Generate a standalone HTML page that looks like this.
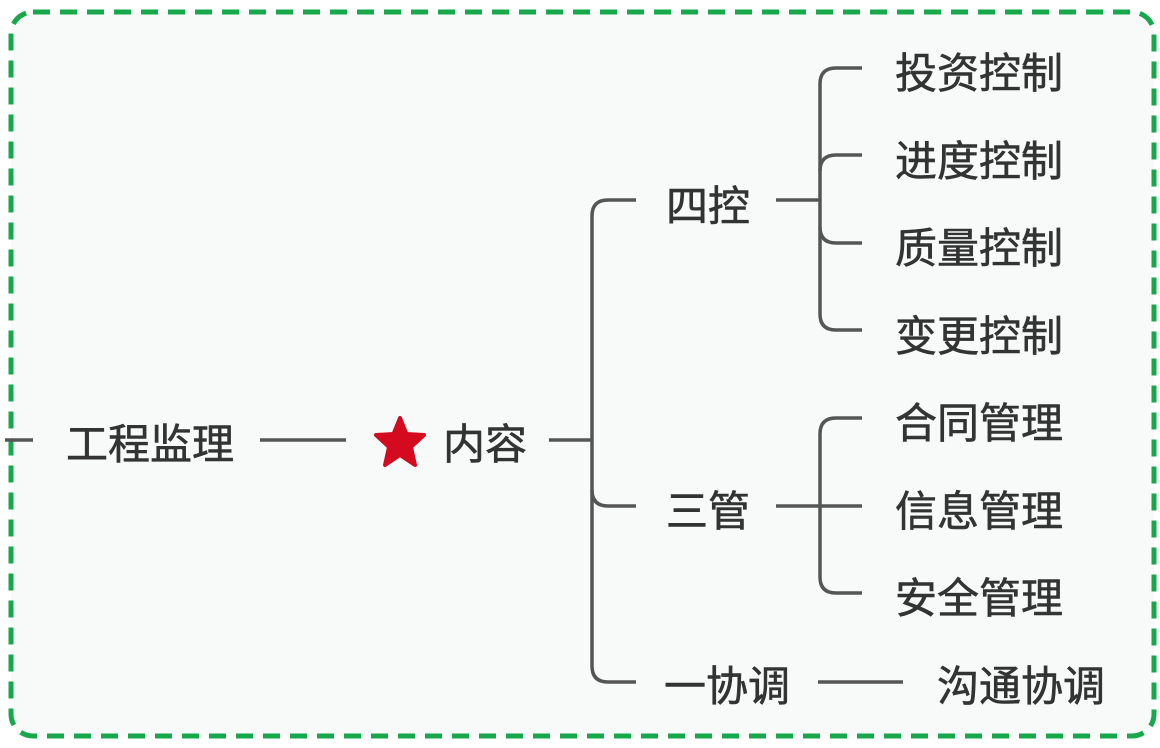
<!DOCTYPE html>
<html><head><meta charset="utf-8"><style>
html,body{margin:0;padding:0;background:#fff;}
svg{display:block;}
text{font-family:"Liberation Sans","Noto Sans CJK SC",sans-serif;font-size:42px;fill:#333;stroke:#333;stroke-width:0.6px;}
</style></head><body>
<svg width="1160" height="748" viewBox="0 0 1160 748" xmlns="http://www.w3.org/2000/svg">
<rect x="11" y="12" width="1143" height="724" rx="22" fill="#f8fafa" stroke="#16a84a" stroke-width="5" stroke-dasharray="17 10"/>
<g stroke="#555" stroke-width="3.5" fill="none">
<line x1="5" y1="440" x2="33" y2="440"/>
<line x1="260" y1="440" x2="346" y2="440"/>
<line x1="549" y1="440" x2="592" y2="440"/>
<path d="M636 200 H608 Q592 200 592 216 V666 Q592 682 608 682 H636"/>
<path d="M592 490 Q592 506 608 506 H636"/>
<line x1="776" y1="200" x2="820" y2="200"/>
<path d="M862 68 H836 Q820 68 820 84 V314 Q820 330 836 330 H862"/>
<path d="M820 171 Q820 155 836 155 H862"/>
<path d="M820 227 Q820 243 836 243 H862"/>
<line x1="776" y1="506" x2="862" y2="506"/>
<path d="M862 418 H836 Q820 418 820 434 V577 Q820 593 836 593 H862"/>
<line x1="818" y1="682" x2="903" y2="682"/>
</g>
<polygon fill="#d40a1e" stroke="#d40a1e" stroke-width="4" stroke-linejoin="round" points="400,418 406.5,434 424,435 411,447 415,465 400,455 385,465 389,447 376,435 393.5,434"/>
<text x="66" y="459">工程监理</text>
<text x="443" y="459">内容</text>
<text x="666" y="221">四控</text>
<text x="666" y="526">三管</text>
<text x="664" y="701">一协调</text>
<text x="895" y="88">投资控制</text>
<text x="895" y="176">进度控制</text>
<text x="895" y="263">质量控制</text>
<text x="895" y="351">变更控制</text>
<text x="895" y="438">合同管理</text>
<text x="895" y="526">信息管理</text>
<text x="895" y="613">安全管理</text>
<text x="937" y="701">沟通协调</text>
</svg>
</body></html>
